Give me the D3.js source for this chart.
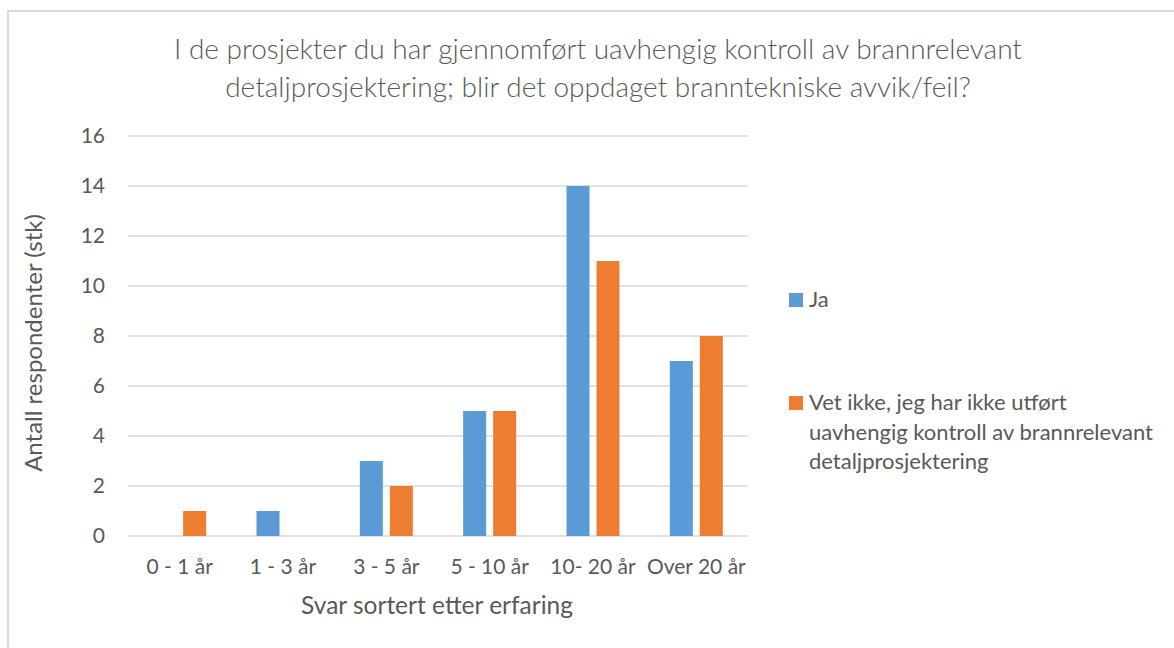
<!DOCTYPE html>
<html>
<head>
<meta charset="utf-8">
<script src="https://cdn.jsdelivr.net/npm/d3@7"></script>
<style>
  body { margin: 0; background: #fff; }
  text { font-family: Lato, "Open Sans", sans-serif; fill: #595959; }
</style>
</head>
<body>
<svg id="chart" width="1174" height="648"></svg>
<script>
// Data
var categories = ['0 - 1 år', '1 - 3 år', '3 - 5 år', '5 - 10 år', '10- 20 år', 'Over 20 år'];
var seriesNames = ['Ja', 'Vet ikke, jeg har ikke utført uavhengig kontroll av brannrelevant detaljprosjektering'];
var ja = [0, 1, 3, 5, 14, 7];
var vetIkke = [1, 0, 2, 5, 11, 8];
var yTicks = [0, 2, 4, 6, 8, 10, 12, 14, 16];
var colors = ['#5b9bd5', '#ed7d31'];

var svg = d3.select('#chart');

svg.append('rect')
	.attr('width', 1174)
	.attr('height', 648)
	.style('fill', '#fff');

// outer chart frame (only top/left visible)
svg.append('path')
	.attr('d', 'M8,648V11H1174')
	.style('fill', 'none')
	.style('stroke', '#d9d9d9')
	.style('stroke-width', 2);

// title
var title = svg.append('text')
	.attr('text-anchor', 'middle')
	.style('font-size', '28px')
	.style('font-weight', 300);
title.append('tspan').attr('x', 598).attr('y', 59)
	.text('I de prosjekter du har gjennomført uavhengig kontroll av brannrelevant');
title.append('tspan').attr('x', 598).attr('y', 97)
	.text('detaljprosjektering; blir det oppdaget branntekniske avvik/feil?');

var y = d3.scaleLinear().domain([0, 16]).range([536, 136]);

var x0 = d3.scaleBand()
	.domain(categories)
	.range([128, 748])
	.paddingInner(0.487)
	.paddingOuter(0.2435);

var x1 = d3.scaleBand()
	.domain([0, 1])
	.range([0, x0.bandwidth()])
	.paddingInner(0.233);

// grid lines
svg.append('g')
	.selectAll('line')
	.data(yTicks)
	.enter()
	.append('line')
	.attr('x1', 128)
	.attr('x2', 748)
	.attr('y1', function (d) { return y(d); })
	.attr('y2', function (d) { return y(d); })
	.style('stroke', '#d9d9d9')
	.style('stroke-width', 1.3);

// y tick labels
svg.append('g')
	.selectAll('text')
	.data(yTicks)
	.enter()
	.append('text')
	.attr('x', 105)
	.attr('y', function (d) { return y(d); })
	.attr('dy', '0.35em')
	.attr('text-anchor', 'end')
	.style('font-size', '21px')
	.text(function (d) { return d; });

// x tick labels
svg.append('g')
	.selectAll('text')
	.data(categories)
	.enter()
	.append('text')
	.attr('x', function (d) { return x0(d) + x0.bandwidth() / 2; })
	.attr('y', 574)
	.attr('text-anchor', 'middle')
	.style('font-size', '21px')
	.text(function (d) { return d; });

// bars
var seriesValues = [ja, vetIkke];
seriesValues.forEach(function (values, s) {
	svg.append('g')
		.selectAll('rect')
		.data(values)
		.enter()
		.append('rect')
		.attr('x', function (d, i) { return x0(categories[i]) + x1(s); })
		.attr('width', x1.bandwidth())
		.attr('y', function (d) { return y(d); })
		.attr('height', function (d) { return y(0) - y(d); })
		.style('fill', colors[s]);
});

// axis titles
svg.append('text')
	.attr('transform', 'translate(42,343) rotate(-90)')
	.attr('text-anchor', 'middle')
	.style('font-size', '24px')
	.text('Antall respondenter (stk)');

svg.append('text')
	.attr('x', 437)
	.attr('y', 614)
	.attr('text-anchor', 'middle')
	.style('font-size', '24.5px')
	.text('Svar sortert etter erfaring');

// legend
var legendTop = [293, 396];
var legendLines = [['Ja'], ['Vet ikke, jeg har ikke utført', 'uavhengig kontroll av brannrelevant', 'detaljprosjektering']];
legendLines.forEach(function (lines, s) {
	svg.append('rect')
		.attr('x', 789)
		.attr('y', legendTop[s])
		.attr('width', 14)
		.attr('height', 14)
		.style('fill', colors[s]);
	var t = svg.append('text').style('font-size', '22px');
	lines.forEach(function (line, k) {
		t.append('tspan')
			.attr('x', 809)
			.attr('y', legendTop[s] + 14 + k * 29.5)
			.text(line);
	});
});
</script>
</body>
</html>
